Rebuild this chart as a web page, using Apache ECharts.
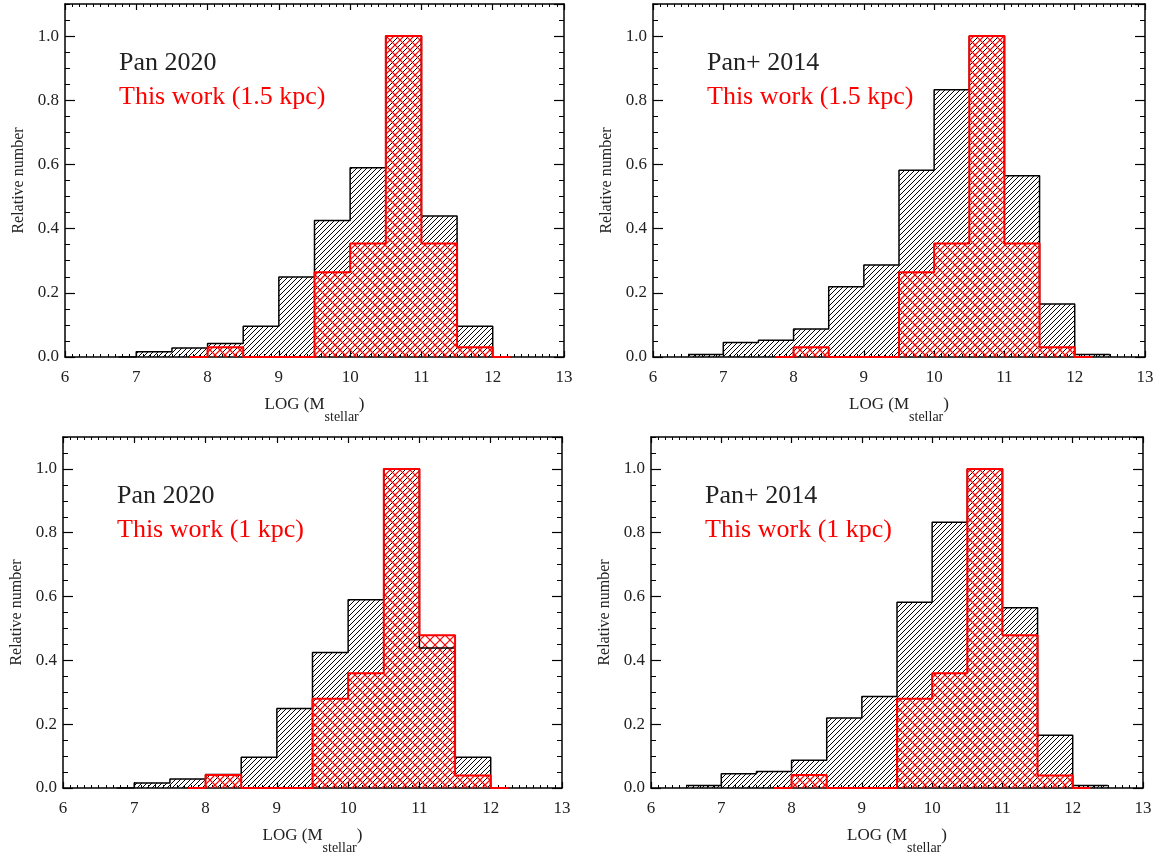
<!DOCTYPE html>
<html>
<head>
<meta charset="utf-8">
<title>Stellar mass histograms</title>
<script src="https://cdn.jsdelivr.net/npm/echarts@6/dist/echarts.min.js"></script>
<style>
html, body { margin: 0; padding: 0; background: #fff; }
#main { width: 1172px; height: 856px; }
</style>
</head>
<body>
<div id="main"></div>
<script>
// histogram bins, 0.5 dex wide (left edges)
var binLeft = [6.5, 7.0, 7.5, 8.0, 8.5, 9.0, 9.5, 10.0, 10.5, 11.0, 11.5, 12.0];
var binWidth = 0.5;
var pan2020 = [0, 0.016, 0.028, 0.042, 0.096, 0.249, 0.425, 0.590, 1.0, 0.439, 0.096, 0];
var pan2014 = [0.008, 0.045, 0.052, 0.087, 0.219, 0.287, 0.582, 0.833, 1.0, 0.565, 0.165, 0.008];
var work15 = [0, 0, 0, 0.030, 0, 0, 0.264, 0.354, 1.0, 0.354, 0.030, 0];
var work10 = [0, 0, 0, 0.041, 0, 0, 0.280, 0.360, 1.0, 0.479, 0.039, 0];
// where each step outline starts and stops
var pan2020Span = [6.75, 12.25];
var pan2014Span = [6.5, 12.5];
var workSpan = [7.75, 12.25];

var xMin = 6, xMax = 13, yMin = 0, yMax = 1.1;
var refNames = ['Pan 2020', 'Pan+ 2014', 'Pan 2020', 'Pan+ 2014'];
var workNames = ['This work (1.5 kpc)', 'This work (1.5 kpc)', 'This work (1 kpc)', 'This work (1 kpc)'];
var refSets = [pan2020, pan2014, pan2020, pan2014];
var refSpans = [pan2020Span, pan2014Span, pan2020Span, pan2014Span];
var workSets = [work15, work15, work10, work10];

var FONT = 'Liberation Serif';
var RED = '#ff0000';

var grids = [
    {left: 65, top: 4, width: 499, height: 353},
    {left: 653, top: 4, width: 492, height: 353},
    {left: 63, top: 437, width: 499, height: 353},
    {left: 651, top: 437, width: 492, height: 353}
];
var textX = [119, 707, 117, 705];
var textY = [[63, 97], [63, 97], [496, 530], [496, 530]];

function stepLine(vals, span) {
    var pts = [];
    for (var i = 0; i < binLeft.length; i++) {
        var a = Math.max(binLeft[i], span[0]);
        var b = Math.min(binLeft[i] + binWidth, span[1]);
        if (b <= a) continue;
        pts.push([a, vals[i]], [b, vals[i]]);
    }
    return pts;
}

function hatchData(vals) {
    var out = [];
    for (var i = 0; i < binLeft.length; i++) {
        if (vals[i] > 0) out.push([binLeft[i], binLeft[i] + binWidth, vals[i]]);
    }
    return out;
}

// dirs: 1 = "/" lines, -1 = "\" lines ; spacing measured along x in pixels
function hatchRender(color, spacing, dirs, width) {
    return function (params, api) {
        var pa = api.coord([api.value(0), 0]);
        var pb = api.coord([api.value(1), api.value(2)]);
        var l = pa[0], r = pb[0], b = pa[1], t = pb[1];
        var kids = [];
        dirs.forEach(function (d) {
            var cMin = d > 0 ? l + t : l - b;
            var cMax = d > 0 ? r + b : r - t;
            for (var c = Math.ceil(cMin / spacing) * spacing; c <= cMax; c += spacing) {
                var xa, xb, ya, yb;
                if (d > 0) {
                    xa = Math.max(l, c - b); xb = Math.min(r, c - t);
                    ya = c - xa; yb = c - xb;
                } else {
                    xa = Math.max(l, c + t); xb = Math.min(r, c + b);
                    ya = xa - c; yb = xb - c;
                }
                if (xb - xa < 0.3) continue;
                kids.push({
                    type: 'line', silent: true,
                    shape: {x1: xa, y1: ya, x2: xb, y2: yb},
                    style: {stroke: color, lineWidth: width}
                });
            }
        });
        return {type: 'group', children: kids};
    };
}

var labelStyle = {fontFamily: FONT, fontSize: 17, color: '#222'};

var xAxes = [], yAxes = [], series = [], texts = [];
grids.forEach(function (g, gi) {
    // bottom + top x axes
    ['bottom', 'top'].forEach(function (pos) {
        xAxes.push({
            gridIndex: gi, type: 'value', position: pos,
            min: xMin, max: xMax, interval: 1,
            axisLine: {onZero: false, lineStyle: {color: '#000', width: 1.5}},
            axisTick: {inside: true, length: 6, lineStyle: {color: '#000', width: 1.2}},
            minorTick: {show: true, splitNumber: 10, length: 3, lineStyle: {color: '#000', width: 1}},
            splitLine: {show: false},
            axisLabel: pos === 'bottom' ? Object.assign({margin: 12}, labelStyle) : {show: false},
            name: pos === 'bottom' ? '{a|LOG (M}{s|stellar}{a|)}' : '',
            nameLocation: 'middle',
            nameGap: 38,
            nameMoveOverlap: false,
            nameTextStyle: {
                rich: {
                    a: {fontFamily: FONT, fontSize: 17, color: '#222', lineHeight: 20},
                    s: {fontFamily: FONT, fontSize: 14, color: '#222', lineHeight: 14, padding: [24, 0, 0, 0]}
                }
            }
        });
    });
    // left/right y axes, major and minor ticks split into two axes each
    ['left', 'right'].forEach(function (pos) {
        yAxes.push({
            gridIndex: gi, type: 'value', position: pos,
            min: yMin, max: yMax, interval: 0.2,
            axisLine: {onZero: false, lineStyle: {color: '#000', width: 1.5}},
            axisTick: {inside: true, length: 10, lineStyle: {color: '#000', width: 1.2}},
            splitLine: {show: false},
            axisLabel: pos === 'left' ? Object.assign({
                margin: 6, showMaxLabel: false,
                formatter: function (v) { return v.toFixed(1); }
            }, labelStyle) : {show: false},
            name: pos === 'left' ? 'Relative number' : '',
            nameLocation: 'middle', nameRotate: 90, nameGap: 38,
            nameMoveOverlap: false,
            nameTextStyle: {fontFamily: FONT, fontSize: 16, color: '#222'}
        });
        yAxes.push({
            gridIndex: gi, type: 'value', position: pos,
            min: yMin, max: yMax, interval: 0.05,
            axisLine: {show: false, onZero: false},
            axisTick: {inside: true, length: 5, lineStyle: {color: '#000', width: 1}},
            splitLine: {show: false},
            axisLabel: {show: false}
        });
    });

    var xi = gi * 2, yi = gi * 4;
    series.push({
        type: 'custom', xAxisIndex: xi, yAxisIndex: yi,
        renderItem: hatchRender('#000', 5, [1], 1),
        data: hatchData(refSets[gi]), silent: true
    });
    series.push({
        type: 'custom', xAxisIndex: xi, yAxisIndex: yi,
        renderItem: hatchRender(RED, 10, [1, -1], 1.2),
        data: hatchData(workSets[gi]), silent: true
    });
    series.push({
        type: 'line', xAxisIndex: xi, yAxisIndex: yi,
        data: stepLine(refSets[gi], refSpans[gi]),
        symbol: 'none', silent: true,
        lineStyle: {color: '#000', width: 1.5}
    });
    series.push({
        type: 'line', xAxisIndex: xi, yAxisIndex: yi,
        data: stepLine(workSets[gi], workSpan),
        symbol: 'none', silent: true,
        lineStyle: {color: RED, width: 2}
    });

    texts.push({
        type: 'text', left: textX[gi], top: textY[gi][0] - 13,
        style: {text: refNames[gi], fontFamily: FONT, fontSize: 26, fill: '#222'}
    });
    texts.push({
        type: 'text', left: textX[gi], top: textY[gi][1] - 13,
        style: {text: workNames[gi], fontFamily: FONT, fontSize: 26, fill: RED}
    });
});

var chart = echarts.init(document.getElementById('main'), null, {renderer: 'canvas'});
chart.setOption({
    backgroundColor: '#fff',
    animation: false,
    grid: grids,
    xAxis: xAxes,
    yAxis: yAxes,
    series: series,
    graphic: texts
});
</script>
</body>
</html>
